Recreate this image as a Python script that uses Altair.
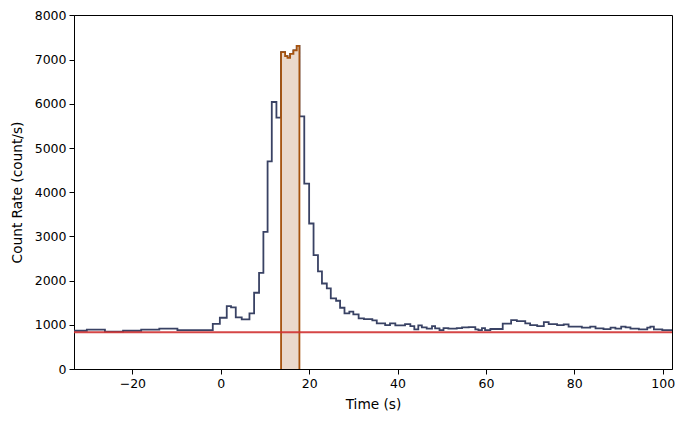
import altair as alt
import pandas as pd

# ---- data ----
# bin edges (s) and count rates (count/s) of the light curve
main_edges = [-34.4, -30.3, -26.2, -22.1, -18.0, -13.9, -9.8, -1.8, -0.2, 1.36,
              2.33, 3.4, 4.75, 6.5, 7.55, 8.67, 9.65, 10.6, 11.55, 12.6,
              13.65, 14.56, 15.1, 15.7, 16.45, 17.2, 17.8,
              18.9, 20.0, 21.0, 22.0, 22.9, 24.0, 24.9, 26.1, 27.0,
              28.0, 29.1, 30.0, 31.2, 32.4, 34.3, 35.3, 37.2, 38.3,
              39.5, 41.7, 42.9, 43.8, 44.7, 45.5, 46.6, 47.8, 48.5,
              49.5, 50.4, 51.5, 53.4, 54.6, 56.1, 57.6, 58.3, 59.1,
              59.8, 61.0, 63.8, 65.7, 67.0, 68.9, 70.0, 71.6, 73.1,
              74.2, 76.1, 77.6, 78.7, 81.7, 83.6, 84.8, 86.6, 88.2,
              89.3, 90.6, 91.6, 92.7, 94.6, 96.5, 97.2, 98.0, 99.9, 104.0]
main_rates = [866, 889, 844, 866, 889, 912, 881, 1020, 1160,
              1424, 1394, 1168, 1123, 1258, 1725, 2177, 3103, 4700, 6041,
              5688,
              7170, 7080, 7040, 7130, 7210, 7310,
              5717, 4196, 3292, 2576, 2207, 1935, 1823, 1597, 1544,
              1386, 1258, 1296, 1236, 1145, 1130, 1100, 1032, 994,
              1032, 987, 1017, 972, 896, 987, 942, 912, 972,
              919, 881, 927, 912, 927, 942, 949, 896, 881,
              927, 881, 905, 1025, 1107, 1085, 1032, 994, 972,
              1062, 1017, 994, 1010, 957, 934, 957, 919, 904,
              934, 912, 957, 940, 912, 897, 934, 957, 897, 880]
sel_start = 13.65
sel_end = 17.8
background_rate = [829]

x_ticks = [-20, 0, 20, 40, 60, 80, 100]
y_ticks = [0, 1000, 2000, 3000, 4000, 5000, 6000, 7000, 8000]
x_domain = [-33.2, 102.1]
y_domain = [0, 8010]

DARK = "#394264"
ORANGE = "#a5520e"
FILL = "#ead9cc"
RED = "#d03232"
FONT = "DejaVu Sans"

# ---- build tables ----
main_df = pd.DataFrame({
    "t": main_edges,
    "rate": main_rates + [main_rates[-1]],
    "i": range(len(main_edges)),
})

sel_e = [e for e in main_edges if sel_start - 1e-9 <= e <= sel_end + 1e-9]
sel_r = [r for e, r in zip(main_edges[:-1], main_rates) if sel_start - 1e-9 <= e < sel_end - 1e-9]
area_df = pd.DataFrame({"t": sel_e, "rate": sel_r + [sel_r[-1]]})
line_t = [sel_e[0]] + sel_e + [sel_e[-1]]
line_r = [0] + sel_r + [sel_r[-1]] + [0]
sel_line_df = pd.DataFrame({"t": line_t, "rate": line_r, "i": range(len(line_t))})
bg_df = pd.DataFrame({"rate": background_rate})

xs = alt.Scale(domain=x_domain, nice=False, zero=False)
ys = alt.Scale(domain=y_domain, nice=False, zero=False)

x_axis = alt.Axis(values=x_ticks, format="d", title="Time (s)",
                  labelExpr="replace(datum.label, '-', '\u2212')", grid=False)
y_axis = alt.Axis(values=y_ticks, format="d", title="Count Rate (count/s)", grid=False)

curve = alt.Chart(main_df).mark_line(
    interpolate="step-after", color=DARK, strokeWidth=1.8, clip=True
).encode(
    x=alt.X("t:Q", scale=xs, axis=x_axis),
    y=alt.Y("rate:Q", scale=ys, axis=y_axis),
    order="i:Q",
)

sel_fill = alt.Chart(area_df).mark_area(
    interpolate="step-after", color=FILL, clip=True
).encode(
    x=alt.X("t:Q", scale=xs),
    y=alt.Y("rate:Q", scale=ys),
    y2=alt.datum(0),
)

sel_line = alt.Chart(sel_line_df).mark_line(
    interpolate="step-after", color=ORANGE, strokeWidth=1.8, clip=True
).encode(
    x=alt.X("t:Q", scale=xs),
    y=alt.Y("rate:Q", scale=ys),
    order="i:Q",
)

bg = alt.Chart(bg_df).mark_rule(color=RED, strokeWidth=2, opacity=0.9).encode(
    y=alt.Y("rate:Q", scale=ys),
)

chart = alt.layer(curve, sel_fill, sel_line, bg).properties(
    width=598, height=354,
    autosize=alt.AutoSizeParams(type="none"),
    padding={"left": 66, "top": 7, "right": 5, "bottom": 45},
).configure_view(
    stroke="black", strokeWidth=1
).configure_axis(
    labelFont=FONT, titleFont=FONT, labelFontSize=12.5, titleFontSize=13.7,
    titleFontWeight="normal", labelColor="black", titleColor="black",
    domainColor="black", tickColor="black", tickSize=5, labelPadding=3,
    domainWidth=1, tickWidth=1,
).configure_axisX(
    titlePadding=8,
).configure_axisY(
    titlePadding=10,
)

chart.save("out.html", embed_options={"renderer": "svg", "actions": False})
